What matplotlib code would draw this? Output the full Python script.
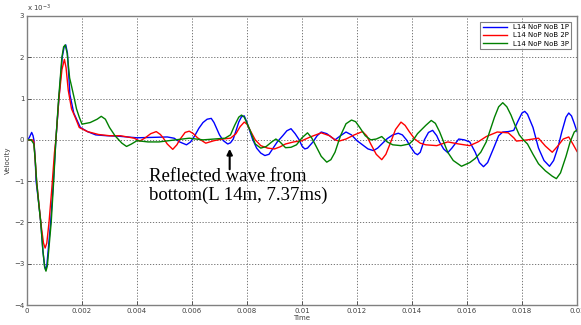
import matplotlib
matplotlib.use("Agg")
import matplotlib.pyplot as plt
from matplotlib.ticker import FuncFormatter

# time in ms, velocity in units of 1e-3
t_blue = [0, 0.08, 0.17, 0.22, 0.25, 0.30, 0.33, 0.42, 0.50, 0.58, 0.64, 0.68, 0.72, 0.78, 0.86, 0.96,
          1.05, 1.16, 1.28, 1.35, 1.41, 1.47, 1.56, 1.70, 1.94, 2.2, 2.5, 2.9, 3.3, 4.0, 4.6, 5.1, 5.35,
          5.55, 5.8, 5.95, 6.1, 6.25, 6.4, 6.55, 6.7, 6.8, 6.9, 7.0, 7.14, 7.3, 7.4, 7.5, 7.6, 7.7, 7.8,
          7.9, 8.0, 8.1, 8.2, 8.35, 8.5, 8.65, 8.8, 8.95, 9.1, 9.3, 9.45, 9.6, 9.75, 9.9, 10.0, 10.1,
          10.2, 10.4, 10.55, 10.7, 10.9, 11.2, 11.4, 11.6, 11.8, 12.0, 12.2, 12.4, 12.6, 12.75, 12.9,
          13.1, 13.3, 13.5, 13.65, 13.8, 13.95, 14.1, 14.2, 14.3, 14.45, 14.6, 14.75, 14.9, 15.0, 15.15,
          15.3, 15.45, 15.7, 15.9, 16.1, 16.3, 16.45, 16.6, 16.75, 17.0, 17.15, 17.3, 17.5, 17.7, 17.85,
          18.0, 18.1, 18.2, 18.4, 18.6, 18.8, 19.0, 19.15, 19.3, 19.45, 19.6, 19.7, 19.8, 19.9, 20.0]
v_blue = [0, 0.05, 0.18, 0.1, 0.0, -0.5, -1.0, -1.5, -2.0, -2.7, -3.05, -3.15, -3.05, -2.6, -2.0, -1.0,
          0.0, 1.0, 2.0, 2.25, 2.3, 2.1, 1.1, 0.65, 0.3, 0.2, 0.12, 0.1, 0.09, 0.05, 0.06, 0.07, 0.04,
          -0.05, -0.12, -0.05, 0.1, 0.28, 0.42, 0.5, 0.52, 0.42, 0.27, 0.12, -0.02, -0.1, -0.07, 0.02, 0.22, 0.43, 0.56,
          0.58, 0.42, 0.22, 0.02, -0.2, -0.32, -0.38, -0.35, -0.2, -0.05, 0.1, 0.22, 0.27, 0.15, 0.0, -0.15, -0.22,
          -0.2, -0.05, 0.1, 0.19, 0.15, 0.0, 0.1, 0.19, 0.12, -0.02, -0.12, -0.22, -0.26, -0.2, -0.1,
          0.03, 0.12, 0.16, 0.12, 0.0, -0.17, -0.32, -0.36, -0.3, 0.0, 0.18, 0.23, 0.1, -0.05, -0.22,
          -0.31, -0.2, 0.02, 0.0, -0.05, -0.3, -0.55, -0.65, -0.55, -0.15, 0.1, 0.19, 0.2, 0.23, 0.45,
          0.65, 0.69, 0.62, 0.3, -0.2, -0.5, -0.64, -0.5, -0.2, 0.2, 0.55, 0.65, 0.58, 0.4, 0.2]

t_red = [0, 0.2, 0.25, 0.30, 0.35, 0.44, 0.52, 0.60, 0.66, 0.72, 0.80, 0.90, 1.0, 1.05, 1.16, 1.27, 1.36,
         1.42, 1.5, 1.62, 1.75, 1.9, 2.2, 2.6, 3.0, 3.4, 3.9, 4.1, 4.3, 4.5, 4.7, 4.85, 4.95, 5.1, 5.3,
         5.45, 5.55, 5.75, 5.9, 6.05, 6.2, 6.5, 6.8, 7.1, 7.4, 7.6, 7.75, 7.9, 8.0, 8.1, 8.3, 8.5, 8.75,
         9.0, 9.2, 9.4, 9.7, 10.0, 10.3, 10.7, 11.0, 11.2, 11.35, 11.6, 11.9, 12.2, 12.35, 12.5, 12.7,
         12.9, 13.05, 13.2, 13.4, 13.6, 13.75, 13.9, 14.1, 14.3, 14.5, 14.9, 15.3, 15.7, 16.1, 16.4, 16.7,
         17.1, 17.5, 17.7, 17.8, 18.2, 18.6, 18.85, 19.1, 19.3, 19.5, 19.7, 19.85, 20.0]
v_red = [0, 0.0, -0.05, -0.5, -1.0, -1.6, -2.1, -2.5, -2.62, -2.5, -2.0, -1.2, -0.3, 0.0, 1.0, 1.7, 1.95,
         1.75, 1.2, 0.75, 0.55, 0.3, 0.2, 0.13, 0.1, 0.1, 0.04, -0.03, 0.05, 0.15, 0.2, 0.13, 0.05, -0.1, -0.23,
         -0.12, 0.0, 0.18, 0.21, 0.15, 0.05, -0.08, -0.02, 0.02, 0.04, 0.15, 0.32, 0.43, 0.38, 0.25, 0.0, -0.14, -0.2,
         -0.22, -0.17, -0.1, -0.05, -0.02, 0.07, 0.17, 0.1, 0.0, -0.03, 0.02, 0.12, 0.2, 0.1, -0.1, -0.35,
         -0.48, -0.35, -0.1, 0.25, 0.43, 0.35, 0.2, 0.02, -0.08, -0.12, -0.14, -0.05, -0.1, -0.14, -0.05, 0.08,
         0.19, 0.17, 0.05, -0.03, 0.0, 0.04, -0.15, -0.3, -0.15, 0.02, 0.07, -0.1, -0.28]

t_green = [0, 0.15, 0.25, 0.30, 0.35, 0.42, 0.50, 0.58, 0.64, 0.69, 0.74, 0.80, 0.88, 0.97, 1.05, 1.15,
           1.27, 1.33, 1.39, 1.46, 1.55, 1.62, 1.72, 1.80, 1.9, 2.0, 2.3, 2.55, 2.7, 2.85, 3.0, 3.2, 3.45,
           3.62, 3.8, 4.0, 4.4, 4.8, 5.4, 5.9, 6.4, 6.8, 7.2, 7.4, 7.55, 7.7, 7.8, 7.9, 8.0, 8.1, 8.3, 8.5,
           8.7, 8.9, 9.05, 9.2, 9.4, 9.6, 9.8, 10.0, 10.2, 10.35, 10.5, 10.7, 10.9, 11.05, 11.2, 11.4, 11.6,
           11.8, 11.95, 12.1, 12.3, 12.5, 12.7, 12.9, 13.1, 13.3, 13.6, 13.9, 14.05, 14.2, 14.5, 14.7, 14.85,
           15.0, 15.15, 15.3, 15.5, 15.8, 16.1, 16.3, 16.5, 16.7, 16.85, 17.0, 17.15, 17.3, 17.45, 17.6,
           17.75, 17.9, 18.05, 18.2, 18.4, 18.6, 18.85, 19.1, 19.25, 19.4, 19.6, 19.75, 19.9, 20.0]
v_green = [0, 0.0, -0.1, -0.5, -1.0, -1.5, -2.0, -2.7, -3.08, -3.18, -3.05, -2.6, -2.0, -1.0, 0.0, 1.0,
           2.0, 2.25, 2.3, 2.1, 1.5, 1.3, 1.0, 0.75, 0.55, 0.38, 0.42, 0.5, 0.57, 0.5, 0.3, 0.1, -0.08,
           -0.16, -0.1, -0.02, -0.05, -0.05, 0.0, 0.04, 0.0, 0.02, 0.04, 0.12, 0.35, 0.55, 0.6, 0.55, 0.4, 0.25, -0.1, -0.2,
           -0.16, -0.05, 0.02, -0.05, -0.19, -0.18, -0.12, 0.05, 0.17, 0.05, -0.14, -0.4, -0.54, -0.48, -0.3, 0.1, 0.39,
           0.48, 0.44, 0.3, 0.1, 0.0, 0.02, 0.08, -0.05, -0.12, -0.14, -0.1, 0.0, 0.15, 0.35, 0.47, 0.4,
           0.2, -0.05, -0.3, -0.5, -0.64, -0.55, -0.45, -0.3, -0.05, 0.25, 0.55, 0.8, 0.9, 0.8, 0.6,
           0.35, 0.12, 0.0, -0.1, -0.35, -0.58, -0.75, -0.88, -0.94, -0.8, -0.4, -0.05, 0.19, 0.24]

labels = ["L14 NoP NoB 1P", "L14 NoP NoB 2P", "L14 NoP NoB 3P"]
colors = ["#0000ff", "#ff0000", "#008000"]
x_ticks = [0, 0.002, 0.004, 0.006, 0.008, 0.01, 0.012, 0.014, 0.016, 0.018, 0.02]
y_ticks = [-4, -3, -2, -1, 0, 1, 2, 3]
annotation = "Reflected wave from\nbottom(L 14m, 7.37ms)"

fig = plt.figure(figsize=(5.81, 3.25), dpi=100)
ax = fig.add_axes([27/581, 20/325, 550/581, 289/325])

for t, v, c, lab in zip([t_blue, t_red, t_green], [v_blue, v_red, v_green], colors, labels):
    ax.plot([x / 1000 for x in t], v, color=c, lw=1.0, label=lab)

ax.set_xlim(0, 0.02)
ax.set_ylim(-4, 3)
ax.set_xticks(x_ticks)
ax.set_yticks(y_ticks)
ax.xaxis.set_major_formatter(FuncFormatter(lambda x, p: "%g" % round(x, 4)))
ax.grid(True, linestyle=(0, (1.5, 2)), color="#606060", lw=0.6)
ax.tick_params(direction="in", labelsize=5, colors="#404040", length=3, width=0.6, pad=2)
for s in ax.spines.values():
    s.set_color("#808080")
    s.set_linewidth(1.0)
ax.set_xlabel("Time", fontsize=5, color="#404040", labelpad=1)
ax.set_ylabel("Velocity", fontsize=5, color="#404040", labelpad=2)
ax.text(0.0, 1.008, r"x 10$^{-3}$", transform=ax.transAxes, fontsize=5, color="#404040", va="bottom")

leg = ax.legend(loc="upper right", fontsize=5, frameon=True, fancybox=False,
                edgecolor="#606060", borderaxespad=0.8, handlelength=3.5, labelspacing=0.3)
leg.get_frame().set_linewidth(0.8)

ax.annotate("", xy=(0.00737, -0.15), xytext=(0.00737, -0.78),
            arrowprops=dict(arrowstyle="-|>", color="black", lw=1.5, mutation_scale=8))
ax.text(0.00445, -0.67, annotation, fontsize=13.5, family="Liberation Serif", va="top",
        ha="left", linespacing=1.2)

fig.savefig("out.png", dpi=100)
